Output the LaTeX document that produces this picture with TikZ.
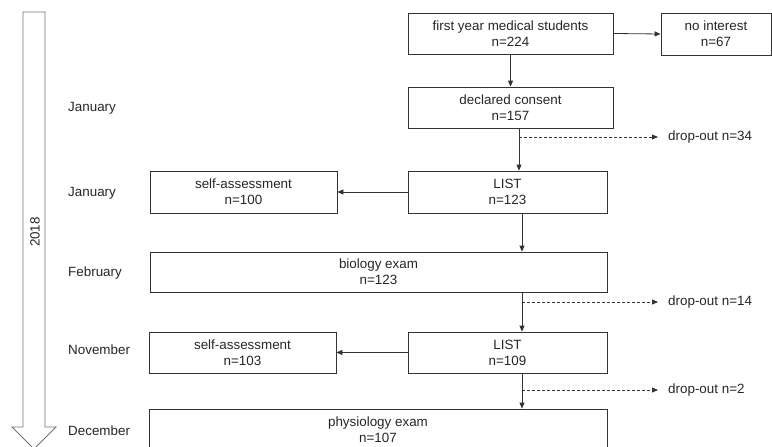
\documentclass[tikz,border=0pt]{standalone}
\usepackage{fontspec}
\setmainfont{Liberation Sans}
\usetikzlibrary{arrows.meta}
\begin{document}
\begin{tikzpicture}[x=1pt,y=-1pt,
  every node/.style={font=\fontsize{13.4}{16}\selectfont, text=black!85},
  box/.style={draw=black!80, line width=0.8pt, align=center, inner sep=0pt},
  conn/.style={draw=black!80, line width=0.8pt, -{Triangle[length=6pt,width=5pt]}},
  dconn/.style={conn, dashed, dash pattern=on 3pt off 2pt},
  lbl/.style={anchor=west, inner sep=0pt}]
\useasboundingbox (0,0) rectangle (772,447);
% timeline arrow
\draw[draw=black!55, line width=0.8pt, fill=white]
  (23,12) -- (45,12) -- (45,427) -- (56,427) -- (34,449) -- (12,427) -- (23,427) -- cycle;
\node[rotate=90, inner sep=0pt] (year) at (35,232) {2018};
% month labels
\node[lbl] (m1) at (68,108) {January};
\node[lbl] (m2) at (68,193) {January};
\node[lbl] (m3) at (68,273) {February};
\node[lbl] (m4) at (68,350) {November};
\node[lbl] (m5) at (68,431) {December};
% boxes
\node[box, minimum width=205pt, minimum height=41pt] (first) at (510.5,33.5) {first year medical students\\n=224};
\node[box, minimum width=110pt, minimum height=42pt] (noint) at (716,34) {no interest\\n=67};
\node[box, minimum width=205pt, minimum height=41pt] (consent) at (510.5,107.5) {declared consent\\n=157};
\node[box, minimum width=199pt, minimum height=42pt] (list1) at (507.5,192) {LIST\\n=123};
\node[box, minimum width=187pt, minimum height=42pt] (self1) at (243.5,192) {self-assessment\\n=100};
\node[box, minimum width=457pt, minimum height=40pt] (bio) at (378.5,272) {biology exam\\n=123};
\node[box, minimum width=199pt, minimum height=41pt] (list2) at (507.5,352.5) {LIST\\n=109};
\node[box, minimum width=187pt, minimum height=41pt] (self2) at (242.5,352.5) {self-assessment\\n=103};
\node[box, minimum width=458pt, minimum height=41pt] (phys) at (378,429.5) {physiology exam\\n=107};
% drop-out labels
\node[lbl] (d1) at (668,137) {drop-out n=34};
\node[lbl] (d2) at (668,302) {drop-out n=14};
\node[lbl] (d3) at (668,390) {drop-out n=2};
% connector x positions
\coordinate (xa) at (519,0);
\coordinate (xb) at (522,0);
\coordinate (j1) at (519,137);
\coordinate (j2) at (522,302);
\coordinate (j3) at (522,390);
% connectors
\draw[conn] (first) -- (consent);
\draw[conn] (first.east) -- (noint.west);
\draw[conn] (consent.south -| xa) -- (list1.north -| xa);
\draw[dconn, shorten >=10pt] (j1) -- (d1.west);
\draw[conn] (list1.west) -- (self1.east);
\draw[conn] (list1.south -| xb) -- (bio.north -| xb);
\draw[conn] (bio.south -| xb) -- (list2.north -| xb);
\draw[dconn, shorten >=10pt] (j2) -- (d2.west);
\draw[conn] (list2.west) -- (self2.east);
\draw[conn] (list2.south -| xb) -- (phys.north -| xb);
\draw[dconn, shorten >=10pt] (j3) -- (d3.west);
\end{tikzpicture}
\end{document}
